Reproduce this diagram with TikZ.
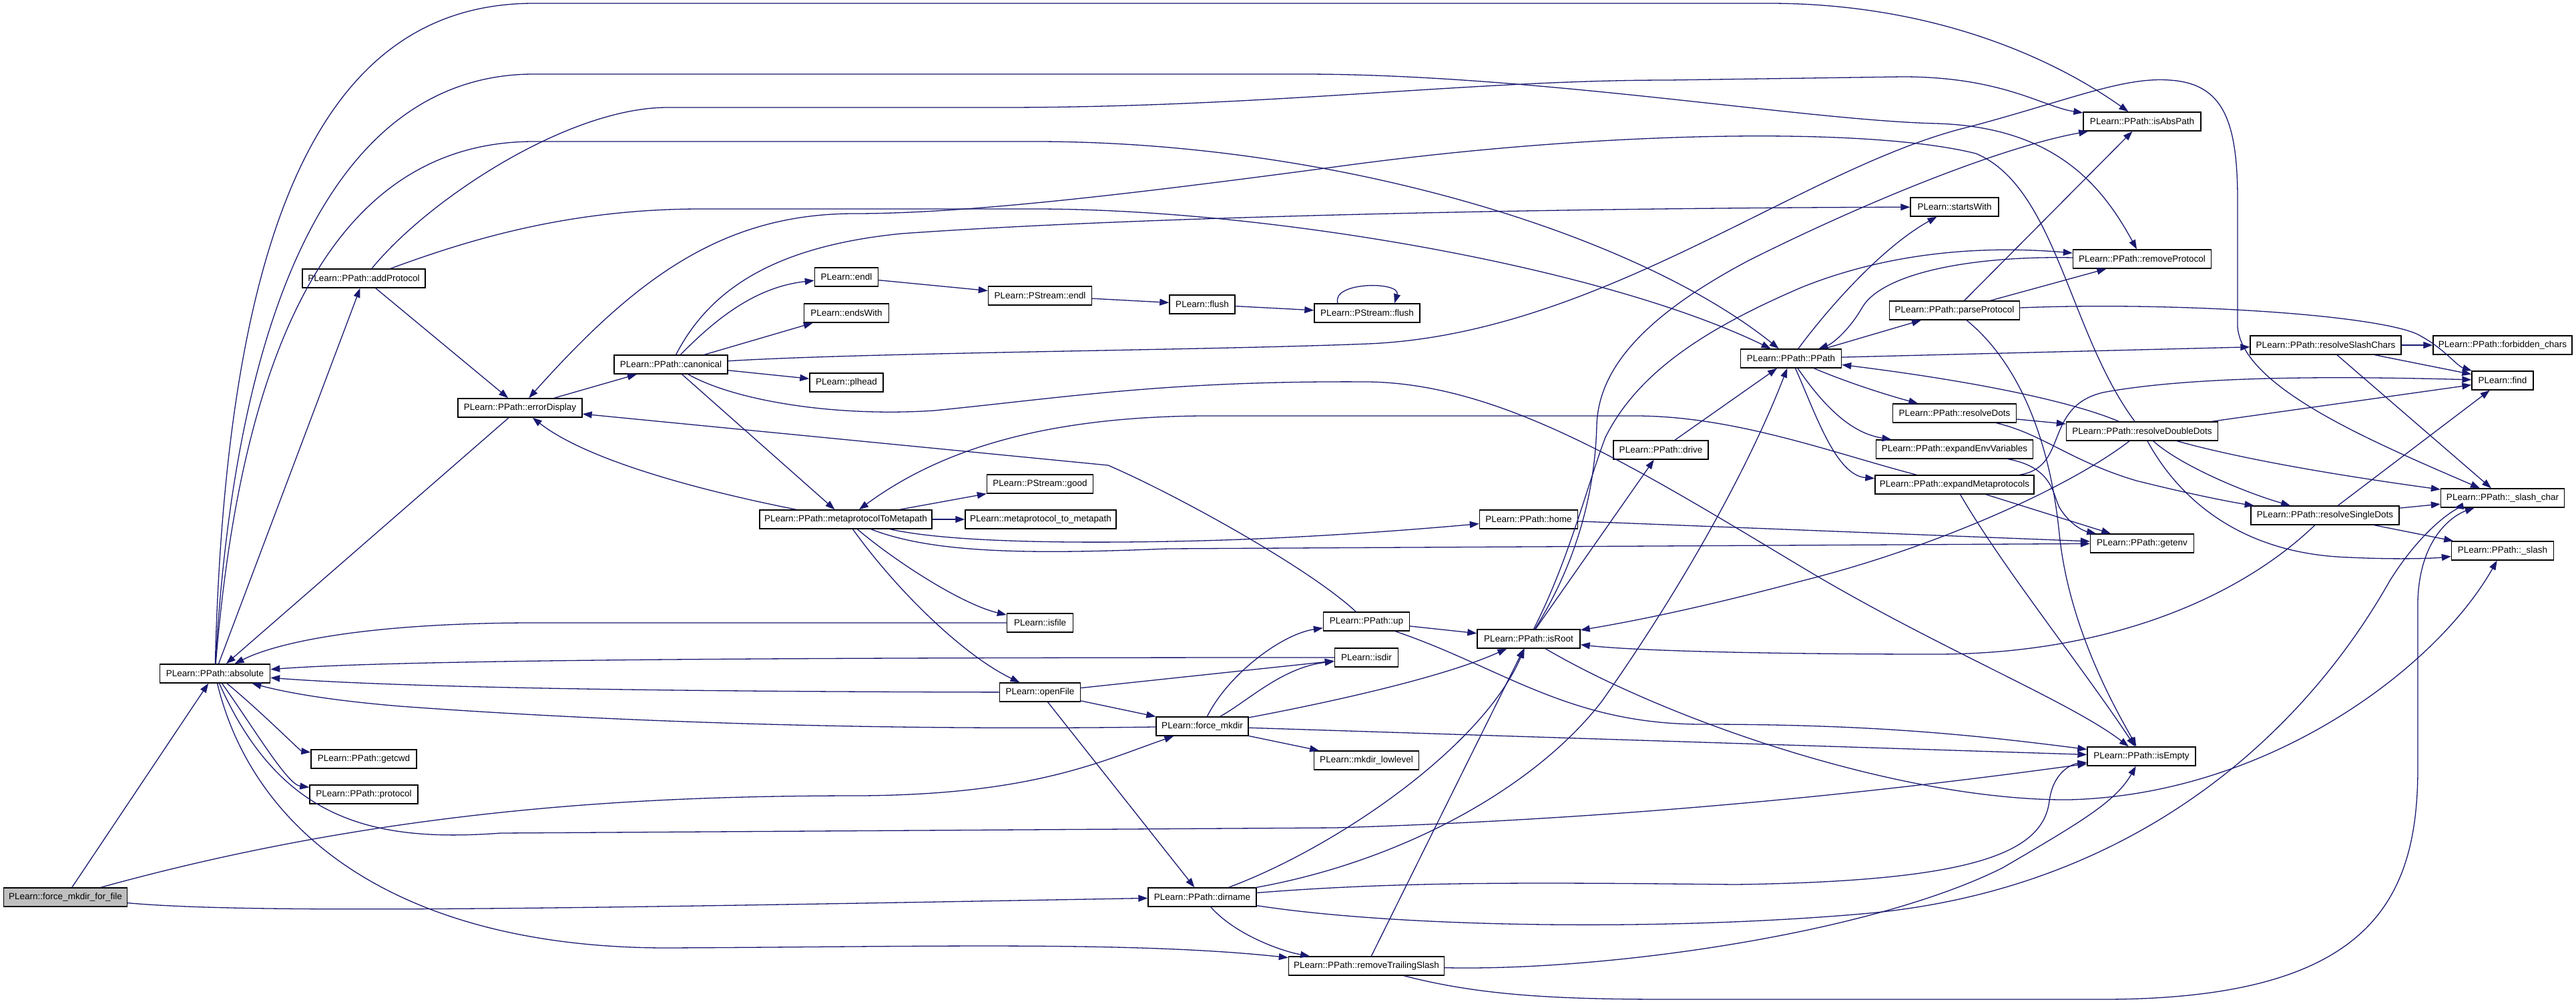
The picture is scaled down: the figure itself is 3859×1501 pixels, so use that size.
\documentclass[tikz,border=0pt]{standalone}
\usepackage{fontspec}
\setmainfont{Liberation Sans}
\usetikzlibrary{arrows.meta}
\definecolor{callblue}{RGB}{25,25,112}
\definecolor{rootgray}{RGB}{191,191,191}
\tikzset{
  fn/.style={draw=black, fill=white, line width=1.4pt, rectangle, minimum height=28pt, inner sep=2pt, font=\fontsize{13.5}{15}\selectfont},
  call/.style={callblue, line width=1.3pt, -{Triangle[length=14pt,width=10pt]}},
}

\begin{document}
\begin{tikzpicture}[x=1pt, y=-1pt]
  \path [fill=white, use as bounding box] (0,0) rectangle (3859,1501);

  % functions
  \node [fn, fill=rootgray, minimum width=185pt] at (98,1344) (ffile) {PLearn::force\_mkdir\_for\_file};
  \node [fn, minimum width=165pt] at (322,1009) (absolute) {PLearn::PPath::absolute};
  \node [fn, minimum width=158pt] at (545,1137) (getcwd) {PLearn::PPath::getcwd};
  \node [fn, minimum width=162pt] at (545,1190) (protocol) {PLearn::PPath::protocol};
  \node [fn, minimum width=184pt] at (545,417) (addProtocol) {PLearn::PPath::addProtocol};
  \node [fn, minimum width=186pt] at (779,611) (errorDisplay) {PLearn::PPath::errorDisplay};
  \node [fn, minimum width=170pt] at (1005,546) (canonical) {PLearn::PPath::canonical};
  \node [fn, minimum width=258pt] at (1267,778) (metaToMeta) {PLearn::PPath::metaprotocolToMetapath};
  \node [fn, minimum width=159pt] at (1558,725) (pgood) {PLearn::PStream::good};
  \node [fn, minimum width=226pt] at (1559,778) (mtom) {PLearn::metaprotocol\_to\_metapath};
  \node [fn, minimum width=99pt] at (1558,933) (isfile) {PLearn::isfile};
  \node [fn, minimum width=121pt] at (1558,1037) (openFile) {PLearn::openFile};
  \node [fn, minimum width=138pt] at (1801,1088) (forcemkdir) {PLearn::force\_mkdir};
  \node [fn, minimum width=162pt] at (1801,1344) (dirname) {PLearn::PPath::dirname};
  \node [fn, minimum width=233pt] at (2047,1447) (rmTrailing) {PLearn::PPath::removeTrailingSlash};
  \node [fn, minimum width=95pt] at (1268,415) (endl) {PLearn::endl};
  \node [fn, minimum width=155pt] at (1558,443) (pendl) {PLearn::PStream::endl};
  \node [fn, minimum width=98pt] at (1801,456) (flush) {PLearn::flush};
  \node [fn, minimum width=158pt] at (2048,469) (pflush) {PLearn::PStream::flush};
  \node [fn, minimum width=127pt] at (1268,469) (endsWith) {PLearn::endsWith};
  \node [fn, minimum width=110pt] at (1268,573) (plhead) {PLearn::plhead};
  \node [fn, minimum width=142pt] at (2488,674) (drive) {PLearn::PPath::drive};
  \node [fn, minimum width=147pt] at (2290,778) (home) {PLearn::PPath::home};
  \node [fn, minimum width=129pt] at (2047,931) (up) {PLearn::PPath::up};
  \node [fn, minimum width=154pt] at (2290,957) (isRoot) {PLearn::PPath::isRoot};
  \node [fn, minimum width=95pt] at (2047,985) (isdir) {PLearn::isdir};
  \node [fn, minimum width=157pt] at (2047,1139) (mkdirLow) {PLearn::mkdir\_lowlevel};
  \node [fn, minimum width=151pt] at (2683,537) (ppath) {PLearn::PPath::PPath};
  \node [fn, minimum width=132pt] at (2928,310) (startsWith) {PLearn::startsWith};
  \node [fn, minimum width=195pt] at (2928,465) (parseProtocol) {PLearn::PPath::parseProtocol};
  \node [fn, minimum width=185pt] at (2928,619) (resolveDots) {PLearn::PPath::resolveDots};
  \node [fn, minimum width=235pt] at (2928,673) (envVars) {PLearn::PPath::expandEnvVariables};
  \node [fn, minimum width=238pt] at (2928,726) (expandMeta) {PLearn::PPath::expandMetaprotocols};
  \node [fn, minimum width=176pt] at (3209,182) (isAbsPath) {PLearn::PPath::isAbsPath};
  \node [fn, minimum width=207pt] at (3209,388) (rmProtocol) {PLearn::PPath::removeProtocol};
  \node [fn, minimum width=227pt] at (3209,646) (doubleDots) {PLearn::PPath::resolveDoubleDots};
  \node [fn, minimum width=155pt] at (3209,814) (getenv) {PLearn::PPath::getenv};
  \node [fn, minimum width=162pt] at (3208,1133) (isEmpty) {PLearn::PPath::isEmpty};
  \node [fn, minimum width=226pt] at (3484,517) (slashChars) {PLearn::PPath::resolveSlashChars};
  \node [fn, minimum width=222pt] at (3483,772) (singleDots) {PLearn::PPath::resolveSingleDots};
  \node [fn, minimum width=208pt] at (3749,517) (forbidden) {PLearn::PPath::forbidden\_chars};
  \node [fn, minimum width=92pt] at (3749,570) (find) {PLearn::find};
  \node [fn, minimum width=185pt] at (3749,746) (slashChar) {PLearn::PPath::\_slash\_char};
  \node [fn, minimum width=153pt] at (3749,825) (slash) {PLearn::PPath::\_slash};

  % straight calls
  \foreach \a/\b in {ffile/absolute, absolute/addProtocol, addProtocol/errorDisplay,
      errorDisplay/absolute, errorDisplay/canonical, canonical/endsWith, canonical/plhead,
      canonical/metaToMeta, metaToMeta/pgood, metaToMeta/mtom, endl/pendl, pendl/flush,
      flush/pflush, openFile/isdir, openFile/forcemkdir, openFile/dirname, forcemkdir/isEmpty,
      forcemkdir/mkdirLow, up/isRoot, rmTrailing/isRoot, isRoot/drive, drive/ppath, home/getenv,
      ppath/parseProtocol, ppath/slashChars, parseProtocol/isAbsPath, parseProtocol/rmProtocol,
      resolveDots/doubleDots, slashChars/forbidden, slashChars/find, slashChars/slashChar,
      doubleDots/find, singleDots/find, singleDots/slashChar, singleDots/slash, expandMeta/getenv} {
    \draw [call] (\a) -- (\b);
  }
  \draw [call] ([xshift=-44pt]pflush.north) .. controls +(-10,-33) and +(10,-33) .. ([xshift=41pt]pflush.north);

  % force_mkdir_for_file and absolute
  \draw [call] (ffile) .. controls (600,1205) and (1000,1192) .. (1290,1192) .. controls (1550,1190) and (1650,1140) .. (forcemkdir);
  \draw [call] (ffile) .. controls (380,1370) and (900,1360) .. (dirname);
  \draw [call] (absolute) .. controls (390,1065) and (450,1125) .. (getcwd);
  \draw [call] (absolute) .. controls (380,1090) and (430,1175) .. (protocol);
  \draw [call] (absolute) .. controls (340,300) and (500,5) .. (800,5) -- (2650,5) .. controls (2900,5) and (3080,90) .. (isAbsPath);
  \draw [call] (absolute) .. controls (355,420) and (520,111) .. (800,111) -- (1950,111) .. controls (2300,111) and (2700,180) .. (2900,185) .. controls (3080,190) and (3150,280) .. (rmProtocol);
  \draw [call] (absolute) .. controls (365,480) and (520,212) .. (800,212) -- (1550,212) .. controls (2000,212) and (2450,350) .. (ppath);
  \draw [call] (absolute) .. controls (420,1230) and (560,1262) .. (750,1248) -- (2000,1240) .. controls (2500,1225) and (2900,1175) .. (isEmpty);
  \draw [call] (absolute) .. controls (380,1250) and (600,1420) .. (1000,1420) .. controls (1400,1418) and (1700,1410) .. (rmTrailing);

  % addProtocol
  \draw [call] (addProtocol) .. controls (640,300) and (850,161) .. (1000,161) -- (1500,161) .. controls (1900,161) and (2200,120) .. (2500,120) -- (2850,115) .. controls (3000,115) and (3060,160) .. (isAbsPath);
  \draw [call] (addProtocol) .. controls (700,360) and (850,313) .. (1050,313) -- (1550,313) .. controls (1900,313) and (2400,400) .. (ppath);

  % canonical
  \draw [call] (canonical) .. controls (1070,480) and (1130,430) .. (endl);
  \draw [call] (canonical) .. controls (1060,440) and (1150,370) .. (1350,350) .. controls (1700,325) and (2300,312) .. (startsWith);
  \draw [call] (canonical) .. controls (1300,528) and (1800,525) .. (2050,515) .. controls (2400,500) and (2700,250) .. (2950,190) .. controls (3100,150) and (3180,115) .. (3250,120) .. controls (3330,125) and (3352,180) .. (3352,300) -- (3352,490) .. controls (3360,580) and (3550,660) .. (slashChar);
  \draw [call] (canonical) .. controls (1100,600) and (1250,625) .. (1400,615) .. controls (1600,595) and (1750,570) .. (2050,572) .. controls (2250,575) and (2450,700) .. (2700,850) .. controls (2900,970) and (3100,1050) .. (isEmpty);

  % metaprotocolToMetapath
  \draw [call] (metaToMeta) .. controls (1050,735) and (880,690) .. (errorDisplay);
  \draw [call] (metaToMeta) .. controls (1340,840) and (1440,905) .. (isfile);
  \draw [call] (metaToMeta) .. controls (1340,880) and (1440,980) .. (openFile);
  \draw [call] (metaToMeta) .. controls (1420,812) and (1600,815) .. (1800,810) .. controls (1950,806) and (2100,795) .. (home);
  \draw [call] (metaToMeta) .. controls (1400,830) and (1550,830) .. (1750,822) -- (getenv);

  % back to absolute
  \draw [call] (isfile) -- (800,933) .. controls (560,933) and (420,960) .. (absolute);
  \draw [call] (isdir) .. controls (1200,985) and (600,988) .. (absolute);
  \draw [call] (openFile) .. controls (1000,1036) and (600,1030) .. (absolute);
  \draw [call] (forcemkdir) .. controls (1300,1095) and (900,1080) .. (600,1058) .. controls (480,1048) and (420,1035) .. (absolute);

  % force_mkdir, up
  \draw [call] (forcemkdir) .. controls (1840,1010) and (1920,950) .. (up);
  \draw [call] (forcemkdir) .. controls (1870,1050) and (1920,1000) .. (isdir);
  \draw [call] (forcemkdir) .. controls (1950,1060) and (2150,1020) .. (isRoot);
  \draw [call] (up) .. controls (1960,850) and (1760,740) .. (1660,697) -- (errorDisplay);
  \draw [call] (up) .. controls (2250,1000) and (2350,1085) .. (2550,1085) .. controls (2800,1085) and (2950,1100) .. (isEmpty);

  % dirname, removeTrailingSlash
  \draw [call] (dirname) .. controls (2000,1270) and (2220,1120) .. (isRoot);
  \draw [call] (dirname) .. controls (2100,1290) and (2300,1180) .. (2400,1050) .. controls (2520,880) and (2620,700) .. (ppath);
  \draw [call] (dirname) .. controls (2100,1320) and (2300,1322) .. (2600,1325) .. controls (2950,1320) and (3060,1280) .. (3070,1200) .. controls (3075,1160) and (3100,1145) .. (isEmpty);
  \draw [call] (dirname) .. controls (1850,1400) and (1920,1425) .. (rmTrailing);
  \draw [call] (dirname) .. controls (2100,1390) and (2500,1395) .. (2800,1368) .. controls (3200,1330) and (3450,1100) .. (3580,870) .. controls (3630,790) and (3680,760) .. (slashChar);
  \draw [call] (rmTrailing) .. controls (2400,1455) and (2800,1400) .. (3000,1300) .. controls (3120,1230) and (3170,1200) .. (isEmpty);
  \draw [call] (rmTrailing) .. controls (2250,1500) and (2400,1497) .. (2600,1497) -- (3150,1497) .. controls (3550,1497) and (3622,1350) .. (3622,1150) -- (3622,900) .. controls (3625,800) and (3680,770) .. (slashChar);

  % isRoot
  \draw [call] (isRoot) .. controls (2350,840) and (2380,720) .. (2405,655) .. controls (2455,555) and (2560,490) .. (2700,430) .. controls (2850,370) and (3000,370) .. (rmProtocol);
  \draw [call] (isRoot) .. controls (2370,830) and (2390,720) .. (2392,636) .. controls (2395,560) and (2450,480) .. (2620,390) .. controls (2800,300) and (3000,220) .. (isAbsPath);
  \draw [call] (isRoot) .. controls (2500,1080) and (2850,1200) .. (3100,1198) .. controls (3400,1190) and (3650,1000) .. (slash);

  % PPath
  \draw [call] (ppath) .. controls (2740,460) and (2820,370) .. (startsWith);
  \draw [call] (ppath) .. controls (2760,570) and (2820,590) .. (resolveDots);
  \draw [call] (ppath) .. controls (2740,620) and (2780,650) .. (envVars);
  \draw [call] (ppath) .. controls (2720,620) and (2750,712) .. (expandMeta);
  \draw [call] (rmProtocol) .. controls (2950,383) and (2820,410) .. (2790,460) .. controls (2770,495) and (2745,515) .. (ppath);

  % parseProtocol
  \draw [call] (parseProtocol) .. controls (3250,452) and (3550,470) .. (3620,500) .. controls (3660,520) and (3680,548) .. (find);
  \draw [call] (parseProtocol) .. controls (3020,540) and (3070,650) .. (3085,800) .. controls (3100,950) and (3180,1080) .. (isEmpty);

  % resolveDots, resolveDoubleDots, resolveSingleDots
  \draw [call] (resolveDots) .. controls (3060,650) and (3100,690) .. (3200,720) .. controls (3300,745) and (3360,755) .. (singleDots);
  \draw [call] (doubleDots) .. controls (3330,680) and (3450,705) .. (slashChar);
  \draw [call] (doubleDots) .. controls (3270,700) and (3370,740) .. (singleDots);
  \draw [call] (doubleDots) .. controls (3260,740) and (3350,830) .. (3520,835) .. controls (3580,838) and (3640,837) .. (slash);
  \draw [call] (doubleDots) .. controls (3100,730) and (2900,820) .. (2700,870) .. controls (2550,910) and (2450,930) .. (isRoot);
  \draw [call] (doubleDots) .. controls (3100,600) and (2950,570) .. (ppath);
  \draw [call] (doubleDots) .. controls (3100,500) and (3080,280) .. (2960,230) .. controls (2800,190) and (2400,195) .. (2000,250) .. controls (1700,290) and (1450,320) .. (1280,320) .. controls (1080,320) and (950,420) .. (errorDisplay);
  \draw [call] (singleDots) .. controls (3350,900) and (3150,980) .. (2900,980) .. controls (2650,980) and (2450,975) .. (isRoot);

  % expandEnvVariables, expandMetaprotocols
  \draw [call] (envVars) .. controls (3075,700) and (3075,740) .. (3085,760) .. controls (3100,785) and (3120,795) .. (getenv);
  \draw [call] (expandMeta) .. controls (2750,680) and (2600,623) .. (2450,623) -- (1800,623) .. controls (1550,625) and (1400,680) .. (metaToMeta);
  \draw [call] (expandMeta) .. controls (3000,850) and (3120,1000) .. (isEmpty);
  \draw [call] (expandMeta) .. controls (3100,700) and (3060,610) .. (3150,588) .. controls (3300,560) and (3550,565) .. (find);

\end{tikzpicture}
\end{document}
